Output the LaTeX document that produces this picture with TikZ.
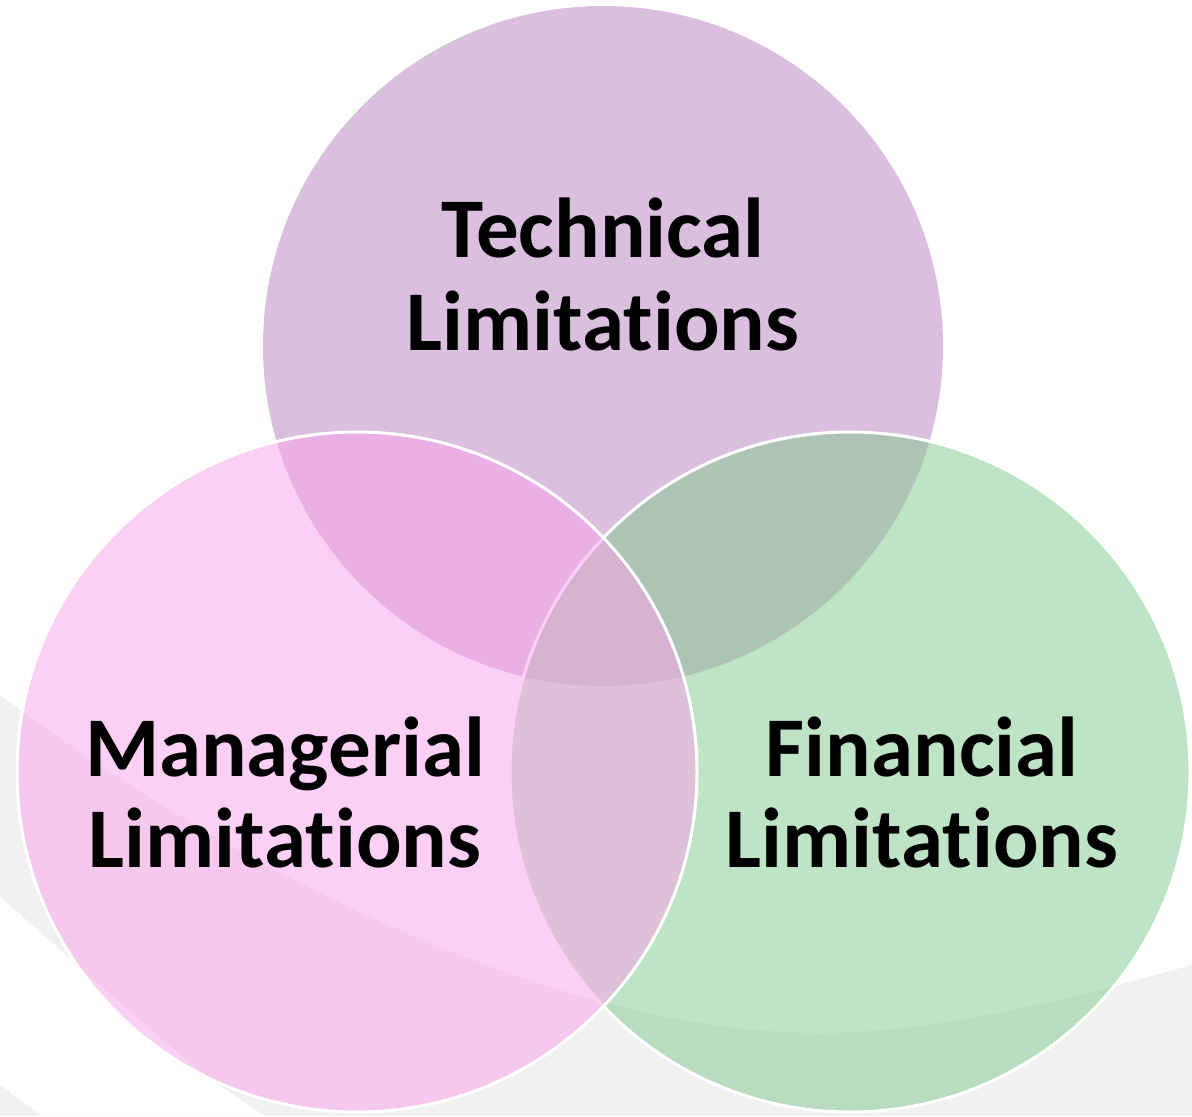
\documentclass[tikz,border=0pt]{standalone}
\usepackage{fontspec}
\setmainfont{Carlito}[Ligatures={NoCommon}]
\definecolor{techc}{RGB}{183,129,193}
\definecolor{manc}{RGB}{251,161,235}
\definecolor{finc}{RGB}{129,201,141}
\definecolor{bggrey}{RGB}{241,241,241}
\begin{document}
\begin{tikzpicture}[x=0.5pt,y=-0.5pt,
  bubble/.style={circle, minimum size=340pt, inner sep=0pt, outer sep=0pt, fill opacity=0.5},
  ringed/.style={draw=white, line width=1.5pt, draw opacity=1},
  lab/.style={anchor=base, inner sep=0pt, font=\fontsize{42.5}{42.5}\selectfont\bfseries, text=black}]
\useasboundingbox (0,0) rectangle (1192,1116);
\fill[white] (0,0) rectangle (1192,1116);
% background swoosh
\fill[bggrey] (0,695) .. controls (240,875) and (560,1033) .. (820,1033)
  .. controls (950,1033) and (1100,990) .. (1192,965) -- (1192,1116) -- (0,1116) -- cycle;
\fill[white] (0,897) .. controls (90,975) and (170,1050) .. (223,1088)
  -- (265,1116) -- (43,1116) -- (0,1085) -- cycle;
% circles
\node[bubble, fill=techc] (tech) at (603,346) {};
\node[bubble, fill=finc, ringed] (fin) at (850,772) {};
\node[bubble, fill=manc, ringed] (man) at (357,772) {};
% labels
\node[lab] (tech1) at (603,257) {Technical};
\node[lab] (tech2) at (603,350) {Limitations};
\node[lab] (man1) at (285,776) {Managerial};
\node[lab] (man2) at (285,867) {Limitations};
\node[lab] (fin1) at (922,776) {Financial};
\node[lab] (fin2) at (922,867) {Limitations};
\end{tikzpicture}
\end{document}
